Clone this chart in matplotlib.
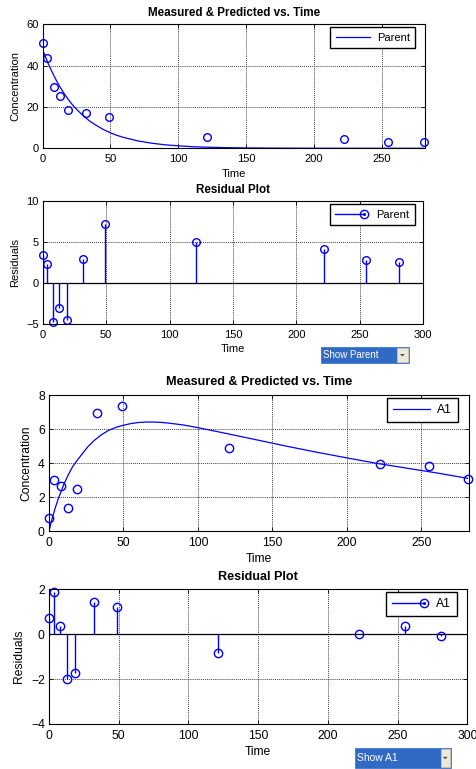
import matplotlib
matplotlib.use('Agg')
import matplotlib.pyplot as plt
from matplotlib.lines import Line2D
from matplotlib.legend_handler import HandlerBase
from matplotlib.patches import Rectangle, Polygon

plt.rcParams['font.family'] = ['Liberation Sans', 'DejaVu Sans']

# ---------------- data ----------------
times = [0, 3.5, 8, 13, 19, 32, 49, 121, 222, 255, 281]

parent_measured = [51.1, 43.5, 29.7, 25.2, 18.4, 17.1, 15.0, 5.6, 4.4, 3.1, 3.1]
parent_residuals = [3.41, 2.36, -4.70, -3.09, -4.47, 2.89, 7.15, 5.00, 4.15, 2.76, 2.56]
parent_fit_time = [0, 2, 4, 6, 8, 10, 13, 16, 19, 22, 26, 30, 35, 40, 45, 50, 55, 60,
                   70, 80, 90, 100, 110, 120, 135, 150, 175, 200, 240, 281]
parent_fit = [47.7, 44.3, 41.1, 38.2, 35.5, 32.9, 29.4, 26.3, 23.5, 21.0, 18.2, 15.7,
              13.0, 10.9, 9.0, 7.5, 6.2, 5.2, 3.6, 2.5, 1.7, 1.2, 0.8, 0.55, 0.32,
              0.18, 0.07, 0.03, 0.01, 0.0]

a1_measured = [0.76, 3.02, 2.65, 1.33, 2.45, 6.92, 7.37, 4.88, 3.92, 3.80, 3.06]
a1_residuals = [0.74, 1.87, 0.37, -1.99, -1.72, 1.44, 1.19, -0.83, 0.01, 0.37, -0.06]
a1_fit_time = [0, 2, 4, 6, 8, 10, 13, 16, 19, 22, 26, 30, 35, 40, 45, 50, 55, 60, 65,
               70, 75, 80, 90, 100, 120, 140, 160, 180, 200, 220, 240, 260, 281]
a1_fit = [0.0, 0.7, 1.3, 1.85, 2.3, 2.75, 3.32, 3.8, 4.17, 4.5, 4.95, 5.3, 5.65, 5.92,
          6.1, 6.22, 6.32, 6.38, 6.41, 6.41, 6.39, 6.35, 6.24, 6.08, 5.72, 5.35, 4.98,
          4.63, 4.3, 3.98, 3.7, 3.42, 3.1]

parent_xticks = [0, 50, 100, 150, 200, 250]
parent_yticks = [0, 20, 40, 60]
resid1_xticks = [0, 50, 100, 150, 200, 250, 300]
resid1_yticks = [-5, 0, 5, 10]
a1_yticks = [0, 2, 4, 6, 8]
resid2_yticks = [-4, -2, 0, 2]

BLUE = '#0000ff'
W, H = 477, 769

fig = plt.figure(figsize=(W / 100, H / 100), dpi=100)
fig.patch.set_facecolor('white')


def box(left, top, right, bottom):
    return [left / W, 1 - bottom / H, (right - left) / W, (bottom - top) / H]


class StemHandler(HandlerBase):
    def create_artists(self, legend, orig_handle, xdescent, ydescent, width,
                       height, fontsize, trans):
        y = height / 2 - ydescent
        x0 = -xdescent
        x1 = width - xdescent
        line = Line2D([x0, x1 - 4], [y, y], color=BLUE, lw=1)
        mk = Line2D([x1 - 4], [y], marker='o', mfc='none', mec=BLUE, ms=6, mew=1,
                    linestyle='none')
        dot = Line2D([x1 - 4], [y], marker='o', mfc=BLUE, mec=BLUE, ms=1.2,
                     linestyle='none')
        for a in (line, mk, dot):
            a.set_transform(trans)
        return [line, mk, dot]


def style(ax, fs, xticks, yticks, xlim, ylim, ylabel, title, tpad):
    ax.set_xlim(*xlim)
    ax.set_ylim(*ylim)
    ax.set_xticks(xticks)
    ax.set_yticks(yticks)
    ax.tick_params(direction='in', top=True, right=True, length=3, width=0.6,
                   labelsize=fs, pad=3)
    ax.tick_params(axis='x', pad=4)
    ax.grid(True, color='#444444', linestyle=(0, (1, 1)), linewidth=0.7)
    for s in ax.spines.values():
        s.set_linewidth(0.8)
        s.set_color('black')
    ax.set_xlabel('Time', fontsize=fs, labelpad=3.5)
    ax.set_ylabel(ylabel, fontsize=fs, labelpad=4)
    ax.set_title(title, fontsize=fs + 0.4, fontweight='bold', pad=tpad)


def legend(ax, handle, label, fs, anchor, stem=False):
    kw = {}
    if stem:
        kw['handler_map'] = {Line2D: StemHandler()}
    leg = ax.legend([handle], [label], loc='upper right', bbox_to_anchor=anchor,
                    borderaxespad=0, fontsize=fs, fancybox=False,
                    edgecolor='black', framealpha=1, handlelength=3.1,
                    borderpad=0.5, handletextpad=0.6, **kw)
    leg.get_frame().set_linewidth(1.0)
    return leg


def dropdown(text, left, top, right, bottom, btn_left, fs):
    fig.add_artist(Rectangle((left / W, 1 - bottom / H), (right - left) / W,
                             (bottom - top) / H, transform=fig.transFigure,
                             facecolor='#316ac5', edgecolor='#316ac5', lw=0.5))
    fig.add_artist(Rectangle((btn_left / W, 1 - (bottom - 1) / H),
                             (right - 1 - btn_left) / W, (bottom - top - 2) / H,
                             transform=fig.transFigure, facecolor='#ece9d8',
                             edgecolor='#c9c5b5', lw=0.6))
    cx = (btn_left + right - 1) / 2
    cy = (top + bottom) / 2
    fig.add_artist(Polygon([((cx - 2.5) / W, 1 - (cy - 1) / H),
                            ((cx + 2.5) / W, 1 - (cy - 1) / H),
                            (cx / W, 1 - (cy + 1.5) / H)], closed=True,
                           transform=fig.transFigure, facecolor='#555555',
                           edgecolor='none'))
    fig.text((left + 2) / W, 1 - cy / H, text, color='white', fontsize=fs,
             va='center', ha='left')


# ---------------- panel 1 ----------------
fs1 = 8
ax1 = fig.add_axes(box(42.7, 24.3, 425, 148.3))
h1, = ax1.plot(parent_fit_time, parent_fit, color=BLUE, lw=0.9)
ax1.plot(times, parent_measured, 'o', mfc='none', mec=BLUE, ms=5.5, mew=1,
         clip_on=False)
style(ax1, fs1, parent_xticks, parent_yticks, (0, 282), (0, 60),
      'Concentration', 'Measured & Predicted vs. Time', 6)
legend(ax1, h1, 'Parent', fs1, (0.975, 0.978))

# ---------------- panel 2 ----------------
ax2 = fig.add_axes(box(42.7, 201, 423.3, 324))
ax2.axhline(0, color='black', lw=0.9)
ax2.vlines(times, 0, parent_residuals, color=BLUE, lw=1)
ax2.plot(times, parent_residuals, 'o', mfc='none', mec=BLUE, ms=5.5, mew=1,
         clip_on=False)
style(ax2, fs1, resid1_xticks, resid1_yticks, (0, 300), (-5, 10),
      'Residuals', 'Residual Plot', 6)
stem_handle1 = Line2D([], [], color=BLUE, marker='o', mfc='none')
legend(ax2, stem_handle1, 'Parent', fs1, (0.978, 0.973), stem=True)
dropdown('Show Parent', 321, 346.7, 409, 363.3, 396.7, 7)

# ---------------- panel 3 ----------------
fs2 = 8.7
ax3 = fig.add_axes(box(49, 395, 469, 531))
h3, = ax3.plot(a1_fit_time, a1_fit, color=BLUE, lw=0.9)
ax3.plot(times, a1_measured, 'o', mfc='none', mec=BLUE, ms=6, mew=1,
         clip_on=False)
style(ax3, fs2, parent_xticks, a1_yticks, (0, 282), (0, 8),
      'Concentration', 'Measured & Predicted vs. Time', 7)
legend(ax3, h3, 'A1', fs2, (0.9745, 0.98))

# ---------------- panel 4 ----------------
ax4 = fig.add_axes(box(49, 589.3, 467.3, 724))
ax4.axhline(0, color='black', lw=0.9)
ax4.vlines(times, 0, a1_residuals, color=BLUE, lw=1)
ax4.plot(times, a1_residuals, 'o', mfc='none', mec=BLUE, ms=6, mew=1,
         clip_on=False)
style(ax4, fs2, resid1_xticks, resid2_yticks, (0, 300), (-4, 2),
      'Residuals', 'Residual Plot', 7)
stem_handle2 = Line2D([], [], color=BLUE, marker='o', mfc='none')
legend(ax4, stem_handle2, 'A1', fs2, (0.976, 0.978), stem=True)
dropdown('Show A1', 355, 748, 450.7, 767.7, 440.7, 7.5)

fig.savefig('out.png', dpi=100, facecolor='white')
